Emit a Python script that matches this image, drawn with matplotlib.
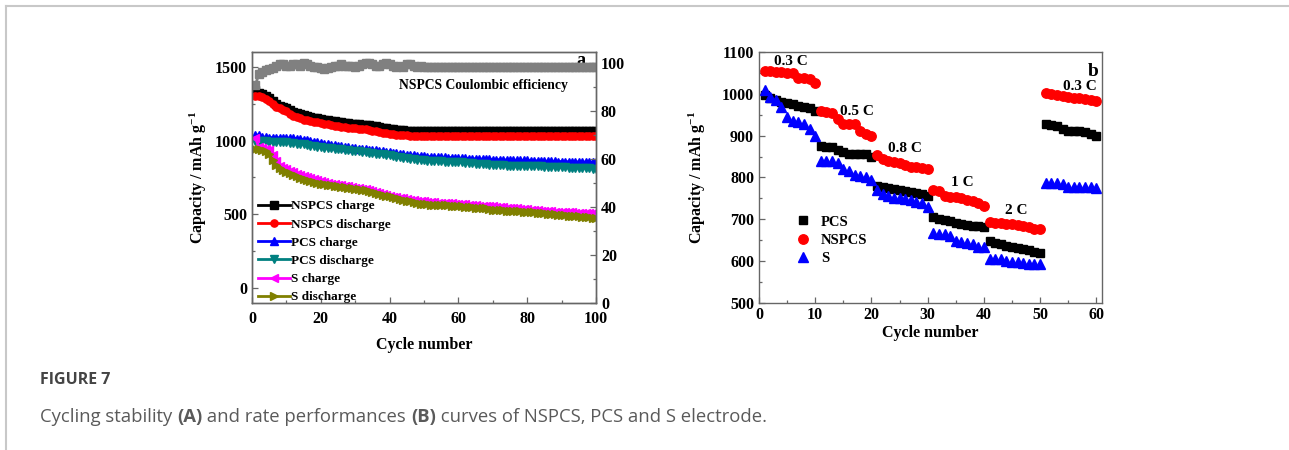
"""Figure 7: cycling stability (a) and rate performance (b)."""
import matplotlib
matplotlib.use("Agg")
import matplotlib.pyplot as plt
from matplotlib.lines import Line2D
from matplotlib.ticker import MultipleLocator

plt.rcParams["font.family"] = ["Liberation Serif", "DejaVu Serif"]
plt.rcParams["font.weight"] = "bold"
plt.rcParams["mathtext.fontset"] = "custom"
plt.rcParams["mathtext.rm"] = "Liberation Serif:bold"
plt.rcParams["mathtext.bf"] = "Liberation Serif:bold"
plt.rcParams["mathtext.default"] = "bf"

# ---- panel a: cycling stability (cycles 1..100) ----
cycles_a = list(range(1, 101))
ce_nspcs = [
    91, 95.5, 96.5, 97, 97.5, 98, 99, 99.5, 99.5, 99,
    99, 99.5, 99.5, 99, 100, 99.5, 99, 98.5, 98.5, 98,
    97.5, 98, 98.5, 99, 99, 99.5, 99, 99, 99, 98.5,
    99, 99.5, 100, 100, 99.5, 99, 99, 99.5, 100, 99.5,
    99, 98.5, 99, 98.5, 99.5, 99.5, 99, 98.5, 99, 98.5,
    98.6, 98.6, 98.6, 98.6, 98.6, 98.6, 98.6, 98.6, 98.6, 98.6,
    98.6, 98.6, 98.6, 98.6, 98.6, 98.6, 98.6, 98.6, 98.6, 98.6,
    98.6, 98.6, 98.6, 98.6, 98.6, 98.6, 98.6, 98.6, 98.6, 98.6,
    98.6, 98.6, 98.6, 98.6, 98.6, 98.6, 98.6, 98.6, 98.6, 98.6,
    98.6, 98.6, 98.6, 98.6, 98.6, 98.6, 98.6, 98.6, 98.6, 98.6,
]
nspcs_charge = [
    1340, 1325, 1315, 1300, 1285, 1265, 1245, 1235, 1230, 1222,
    1210, 1195, 1185, 1178, 1170, 1165, 1160, 1155, 1150, 1146,
    1142, 1138, 1135, 1130, 1127, 1124, 1120, 1117, 1114, 1112,
    1110, 1108, 1106, 1103, 1100, 1097, 1093, 1088, 1083, 1078,
    1075, 1073, 1071, 1069, 1068, 1067, 1066, 1066, 1065, 1065,
    1065, 1065, 1065, 1065, 1065, 1065, 1065, 1065, 1065, 1065,
    1065, 1065, 1065, 1065, 1065, 1065, 1065, 1065, 1065, 1065,
    1065, 1065, 1065, 1065, 1065, 1065, 1065, 1065, 1065, 1065,
    1065, 1065, 1065, 1065, 1065, 1065, 1065, 1065, 1065, 1065,
    1065, 1065, 1065, 1065, 1065, 1065, 1065, 1065, 1065, 1065,
]
nspcs_discharge = [
    1305, 1300, 1292, 1282, 1268, 1248, 1228, 1218, 1210, 1200,
    1180, 1165, 1158, 1150, 1142, 1137, 1132, 1128, 1124, 1120,
    1115, 1110, 1106, 1102, 1098, 1095, 1092, 1088, 1085, 1082,
    1080, 1078, 1075, 1070, 1066, 1062, 1058, 1054, 1050, 1046,
    1043, 1040, 1038, 1036, 1035, 1034, 1033, 1032, 1032, 1031,
    1031, 1031, 1031, 1031, 1031, 1031, 1031, 1031, 1031, 1031,
    1031, 1031, 1031, 1031, 1031, 1031, 1031, 1031, 1031, 1031,
    1031, 1031, 1031, 1031, 1031, 1031, 1031, 1031, 1031, 1031,
    1031, 1031, 1031, 1031, 1031, 1031, 1031, 1031, 1031, 1031,
    1031, 1031, 1031, 1031, 1031, 1031, 1031, 1031, 1031, 1031,
]
pcs_charge = [
    1040, 1035, 1025, 1022, 1020, 1020, 1019, 1019, 1018, 1018,
    1017, 1015, 1013, 1010, 1006, 1002, 998, 993, 988, 982,
    978, 975, 972, 968, 965, 962, 958, 955, 952, 948,
    945, 943, 940, 938, 936, 934, 930, 927, 924, 921,
    918, 914, 910, 907, 904, 902, 900, 898, 896, 894,
    892, 890, 889, 888, 887, 886, 885, 884, 882, 880,
    880, 879, 878, 877, 876, 875, 874, 873, 872, 871,
    871, 870, 869, 868, 868, 867, 866, 866, 865, 865,
    864, 863, 862, 861, 860, 860, 859, 859, 858, 858,
    857, 856, 856, 855, 855, 854, 854, 853, 853, 852,
]
pcs_discharge = [
    1000, 998, 996, 994, 992, 990, 990, 989, 988, 987,
    985, 983, 980, 977, 974, 970, 966, 962, 958, 955,
    952, 950, 948, 946, 944, 941, 938, 935, 932, 930,
    927, 924, 921, 918, 915, 912, 909, 906, 903, 900,
    896, 892, 888, 884, 880, 877, 874, 871, 868, 866,
    864, 862, 861, 860, 859, 858, 857, 856, 855, 854,
    852, 850, 848, 846, 844, 842, 840, 838, 836, 834,
    833, 832, 832, 831, 831, 830, 830, 830, 829, 829,
    828, 827, 826, 825, 824, 823, 822, 821, 820, 819,
    818, 817, 816, 815, 814, 813, 812, 811, 810, 808,
]
s_charge = [
    1020, 955, 950, 945, 935, 900, 860, 830, 815, 805,
    795, 785, 775, 765, 760, 752, 745, 738, 730, 725,
    718, 713, 708, 703, 700, 697, 694, 690, 686, 682,
    678, 674, 670, 666, 660, 652, 645, 638, 632, 626,
    620, 616, 612, 608, 604, 600, 596, 593, 590, 588,
    586, 584, 582, 580, 578, 576, 575, 574, 573, 572,
    570, 568, 566, 564, 562, 560, 558, 556, 555, 554,
    552, 550, 548, 546, 544, 542, 540, 538, 536, 534,
    532, 530, 528, 526, 524, 522, 520, 518, 517, 516,
    515, 514, 513, 512, 511, 510, 509, 508, 507, 506,
]
s_discharge = [
    945, 940, 935, 928, 912, 865, 835, 812, 800, 788,
    778, 768, 758, 748, 740, 733, 726, 720, 714, 708,
    703, 699, 696, 693, 690, 687, 684, 681, 678, 675,
    671, 667, 663, 658, 652, 645, 638, 632, 627, 623,
    618, 612, 606, 600, 594, 588, 582, 577, 573, 570,
    568, 566, 565, 564, 563, 562, 561, 560, 558, 556,
    554, 552, 550, 548, 546, 544, 542, 540, 536, 532,
    530, 528, 527, 526, 525, 524, 522, 520, 519, 518,
    516, 514, 512, 510, 508, 506, 504, 502, 499, 496,
    494, 492, 490, 488, 486, 484, 482, 480, 478, 475,
]

# ---- panel b: rate performance (cycles 1..60) ----
cycles_b = list(range(1, 61))
rate_pcs = [
    998, 990, 985, 980, 977, 975, 972, 968, 965, 960,
    875, 873, 872, 865, 860, 857, 856, 856, 855, 850,
    780, 777, 775, 773, 770, 768, 765, 762, 760, 755,
    705, 700, 698, 695, 692, 688, 686, 685, 683, 682,
    647, 643, 640, 637, 634, 631, 628, 626, 622, 620,
    928, 925, 922, 915, 912, 910, 910, 908, 905, 898,
]
rate_nspcs = [
    1054, 1054, 1053, 1052, 1050, 1049, 1038, 1037, 1035, 1025,
    958, 957, 955, 940, 928, 928, 927, 912, 905, 900,
    853, 845, 840, 838, 835, 830, 826, 825, 822, 820,
    770, 768, 755, 754, 753, 750, 745, 743, 740, 733,
    693, 692, 690, 689, 688, 686, 685, 682, 678, 677,
    1002, 999, 997, 995, 993, 991, 989, 987, 985, 982,
]
rate_s = [
    1010, 992, 985, 968, 945, 935, 932, 928, 915, 898,
    840, 840, 840, 835, 820, 815, 805, 803, 800, 795,
    770, 760, 755, 752, 750, 748, 745, 742, 740, 730,
    668, 665, 664, 660, 648, 645, 643, 640, 635, 635,
    605, 605, 604, 600, 598, 597, 595, 593, 592, 592,
    788, 788, 788, 785, 778, 777, 777, 777, 777, 776,
]
rate_labels = ["0.3 C", "0.5 C", "0.8 C", "1 C", "2 C", "0.3 C"]
rate_label_x = [5.6, 17.5, 26, 36.1, 45.7, 57.1]
rate_label_y = [1077, 957, 869, 789, 722, 1017]

SPINE = "#666666"


def _style(ax):
    for spine in ax.spines.values():
        spine.set_color(SPINE)
        spine.set_linewidth(1.0)
    ax.tick_params(which="both", direction="in", colors=SPINE, labelcolor="black",
                   labelsize=11.5, width=0.9)
    ax.tick_params(which="major", length=4)
    ax.tick_params(which="minor", length=2.5)
    ax.tick_params(axis="x", pad=6)


fig = plt.figure(figsize=(12.89, 4.5), dpi=100)

# page border (top and left edge of the figure box)
fig.add_artist(Line2D([6 / 1289, 1], [1 - 6 / 450, 1 - 6 / 450], color="#c8c8c8", lw=1.5))
fig.add_artist(Line2D([6 / 1289, 6 / 1289], [0, 1 - 6 / 450], color="#c8c8c8", lw=1.5))

# ---- panel a ----
ax_a = fig.add_axes([0.1955, 0.3267, 0.2669, 0.5578])
ms = 5.2
lw = 2.0
series_a = [
    (nspcs_charge, "black", "s", "NSPCS charge"),
    (nspcs_discharge, "red", "o", "NSPCS discharge"),
    (pcs_charge, "blue", "^", "PCS charge"),
    (pcs_discharge, "#008080", "v", "PCS discharge"),
    (s_charge, "magenta", "<", "S charge"),
    (s_discharge, "#808000", ">", "S discharge"),
]
for vals, color, marker, label in series_a:
    ax_a.plot(cycles_a, vals, color=color, marker=marker, markersize=ms, lw=lw, label=label)
ax_a.set_xlim(0, 100)
ax_a.set_ylim(-100, 1600)
ax_a.xaxis.set_major_locator(MultipleLocator(20))
ax_a.xaxis.set_minor_locator(MultipleLocator(10))
ax_a.yaxis.set_major_locator(MultipleLocator(500))
ax_a.yaxis.set_minor_locator(MultipleLocator(250))
_style(ax_a)
ax_a.set_xlabel("Cycle number", fontsize=11.5, fontweight="bold", labelpad=7)
ax_a.set_ylabel(r"Capacity / mAh g$^{-1}$", fontsize=11.5, fontweight="bold", labelpad=4)
ax_a.legend(loc="lower left", bbox_to_anchor=(0.0, -0.025), frameon=False, handlelength=2.4,
            handletextpad=0.1, labelspacing=0.45, borderaxespad=0.05,
            prop={"weight": "bold", "size": 9.5})
ax_a.text(0.97, 1.0, "a", transform=ax_a.transAxes, ha="right", va="top",
          fontsize=13, fontweight="bold")

ax_ce = ax_a.twinx()
ax_ce.plot(cycles_a, ce_nspcs, color="#808080", marker="s", markersize=ms + 0.8, lw=lw)
ax_ce.set_ylim(0, 104.7)
ax_ce.yaxis.set_major_locator(MultipleLocator(20))
ax_ce.yaxis.set_minor_locator(MultipleLocator(10))
_style(ax_ce)
ax_ce.text(0.672, 0.868, "NSPCS Coulombic efficiency", transform=ax_a.transAxes,
           ha="center", va="center", fontsize=9.8, fontweight="bold")

# ---- panel b ----
ax_b = fig.add_axes([0.5888, 0.3267, 0.2661, 0.5578])
ms_b = 6.8
ax_b.plot(cycles_b, rate_pcs, ls="none", marker="s", color="black", markersize=ms_b - 0.4, label="PCS")
ax_b.plot(cycles_b, rate_nspcs, ls="none", marker="o", color="red", markersize=ms_b, label="NSPCS")
ax_b.plot(cycles_b, rate_s, ls="none", marker="^", color="blue", markersize=ms_b, label="S")
for txt, x, y in zip(rate_labels, rate_label_x, rate_label_y):
    ax_b.text(x, y, txt, ha="center", va="center", fontsize=11, fontweight="bold")
ax_b.text(0.99, 0.955, "b", transform=ax_b.transAxes, ha="right", va="top",
          fontsize=14, fontweight="bold")
ax_b.set_xlim(0, 61)
ax_b.set_ylim(500, 1100)
ax_b.xaxis.set_major_locator(MultipleLocator(10))
ax_b.xaxis.set_minor_locator(MultipleLocator(5))
ax_b.yaxis.set_major_locator(MultipleLocator(100))
ax_b.yaxis.set_minor_locator(MultipleLocator(50))
_style(ax_b)
ax_b.tick_params(axis="x", pad=3)
ax_b.set_xlabel("Cycle number", fontsize=11.5, fontweight="bold", labelpad=1)
ax_b.set_ylabel(r"Capacity / mAh g$^{-1}$", fontsize=11.5, fontweight="bold", labelpad=10)
ax_b.legend(loc="center left", bbox_to_anchor=(0.07, 0.25), frameon=False,
            handlelength=1.0, handletextpad=0.7, labelspacing=0.35,
            prop={"weight": "bold", "size": 10.5})

# ---- caption ----
cap = fig.add_axes([0, 0, 1, 1], facecolor="none")
cap.set_axis_off()
cap_font = ["Open Sans", "DejaVu Sans"]
cap.text(40 / 1289, 1 - 380 / 450, "FIGURE 7", ha="left", va="center", fontsize=11.5,
         family=cap_font, weight="bold", color="#444444")
pieces = [
    ("Cycling stability ", "normal"),
    ("(A)", "bold"),
    (" and rate performances ", "normal"),
    ("(B)", "bold"),
    (" curves of NSPCS, PCS and S electrode.", "normal"),
]
prev = None
for txt, wt in pieces:
    if prev is None:
        prev = cap.text(40 / 1289, 1 - 426 / 450, txt, ha="left", va="bottom", fontsize=13.3,
                        family=cap_font, weight=wt, color="#5a5a5a")
    else:
        prev = cap.annotate(txt, xy=(1, 0), xycoords=prev, ha="left", va="bottom",
                            fontsize=13.3, family=cap_font, weight=wt, color="#5a5a5a")

fig.savefig("out.png", dpi=100, facecolor="white")
